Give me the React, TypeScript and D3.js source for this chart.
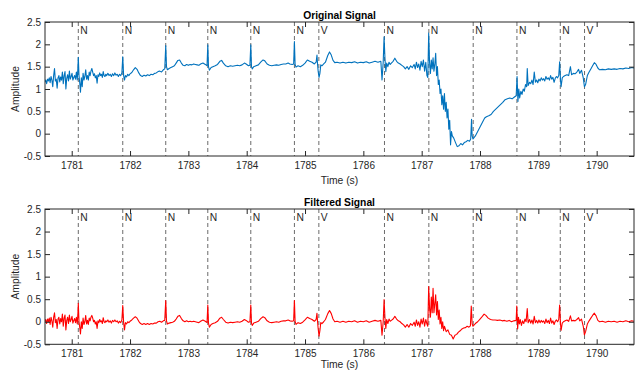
import { useEffect, useRef } from "react";
import { select, scaleLinear, line, axisBottom, axisLeft, axisTop, axisRight } from "d3";

// axis ticks
const xTicks = [1781, 1782, 1783, 1784, 1785, 1786, 1787, 1788, 1789, 1790];
const yTicks = [-0.5, 0, 0.5, 1, 1.5, 2, 2.5];

// beat annotations
const beatTimes = [
  1781.113, 1781.875, 1782.612, 1783.333, 1784.07, 1784.818, 1785.237,
  1786.362, 1787.123, 1787.883, 1788.633, 1789.376, 1789.792,
];
const beatLabels = ["N", "N", "N", "N", "N", "N", "V", "N", "N", "N", "N", "N", "V"];

// [time (s), amplitude]
const originalSignal: [number, number][] = [
  [1780.54, 1.15], [1780.555, 1.2], [1780.57, 1.12], [1780.585, 1.22], [1780.6, 1.18], [1780.615, 1.25],
  [1780.63, 1.14], [1780.645, 1.28], [1780.66, 1.2], [1780.675, 1.05], [1780.69, 1.3], [1780.705, 1.46],
  [1780.72, 1.18], [1780.735, 1.22], [1780.75, 1.02], [1780.765, 1.25], [1780.78, 1.3], [1780.795, 1.16],
  [1780.81, 1.27], [1780.825, 1.2], [1780.84, 1.38], [1780.855, 1.12], [1780.87, 1.3], [1780.885, 1.39],
  [1780.9, 1.0], [1780.915, 1.24], [1780.93, 1.32], [1780.945, 1.18], [1780.96, 1.4], [1780.975, 1.22],
  [1780.99, 1.28], [1781.005, 1.35], [1781.02, 1.2], [1781.035, 1.26], [1781.05, 1.3], [1781.065, 1.22],
  [1781.08, 1.38], [1781.095, 1.2], [1781.105, 1.45], [1781.113, 1.71], [1781.125, 1.3], [1781.14, 1.1],
  [1781.15, 0.93], [1781.165, 1.25], [1781.18, 1.05], [1781.195, 1.35], [1781.21, 1.2], [1781.225, 1.28],
  [1781.24, 1.43], [1781.255, 1.22], [1781.27, 1.3], [1781.285, 1.2], [1781.3, 1.38], [1781.315, 1.3],
  [1781.33, 1.4], [1781.345, 1.46], [1781.36, 1.38], [1781.375, 1.3], [1781.39, 1.34], [1781.405, 1.25],
  [1781.42, 1.3], [1781.435, 1.13], [1781.45, 1.32], [1781.465, 1.28], [1781.48, 1.36], [1781.495, 1.3],
  [1781.51, 1.33], [1781.525, 1.26], [1781.54, 1.39], [1781.555, 1.3], [1781.57, 1.28], [1781.585, 1.33],
  [1781.6, 1.3], [1781.62, 1.35], [1781.64, 1.3], [1781.66, 1.33], [1781.68, 1.28], [1781.7, 1.34],
  [1781.72, 1.3], [1781.74, 1.36], [1781.76, 1.31], [1781.78, 1.33], [1781.8, 1.28], [1781.82, 1.33],
  [1781.84, 1.3], [1781.86, 1.36], [1781.875, 1.72], [1781.89, 1.3], [1781.905, 1.2], [1781.92, 1.3],
  [1781.94, 1.27], [1781.96, 1.33], [1781.98, 1.3], [1782.0, 1.34], [1782.03, 1.37], [1782.06, 1.43],
  [1782.09, 1.48], [1782.12, 1.44], [1782.15, 1.36], [1782.18, 1.3], [1782.21, 1.28], [1782.24, 1.31],
  [1782.27, 1.29], [1782.3, 1.32], [1782.33, 1.3], [1782.36, 1.33], [1782.39, 1.32], [1782.42, 1.35],
  [1782.45, 1.36], [1782.48, 1.39], [1782.51, 1.4], [1782.54, 1.38], [1782.57, 1.43], [1782.595, 1.45],
  [1782.612, 1.97], [1782.625, 1.5], [1782.64, 1.43], [1782.67, 1.46], [1782.7, 1.48], [1782.73, 1.5],
  [1782.76, 1.52], [1782.79, 1.58], [1782.82, 1.64], [1782.85, 1.65], [1782.88, 1.58], [1782.91, 1.53],
  [1782.94, 1.52], [1782.97, 1.55], [1783.0, 1.53], [1783.03, 1.55], [1783.06, 1.54], [1783.09, 1.56],
  [1783.12, 1.55], [1783.15, 1.54], [1783.18, 1.53], [1783.21, 1.56], [1783.25, 1.58], [1783.29, 1.55],
  [1783.32, 1.52], [1783.333, 1.99], [1783.345, 1.5], [1783.36, 1.42], [1783.39, 1.48], [1783.42, 1.5],
  [1783.46, 1.52], [1783.5, 1.55], [1783.54, 1.62], [1783.57, 1.64], [1783.6, 1.58], [1783.64, 1.52],
  [1783.68, 1.5], [1783.72, 1.52], [1783.76, 1.51], [1783.8, 1.52], [1783.84, 1.53], [1783.88, 1.52],
  [1783.92, 1.54], [1783.96, 1.58], [1783.99, 1.56], [1784.03, 1.52], [1784.055, 1.53], [1784.07, 1.99],
  [1784.082, 1.5], [1784.095, 1.45], [1784.12, 1.5], [1784.16, 1.52], [1784.2, 1.54], [1784.24, 1.6],
  [1784.28, 1.65], [1784.31, 1.63], [1784.35, 1.56], [1784.39, 1.53], [1784.43, 1.52], [1784.47, 1.53],
  [1784.51, 1.54], [1784.55, 1.53], [1784.59, 1.55], [1784.63, 1.56], [1784.67, 1.56], [1784.71, 1.58],
  [1784.74, 1.56], [1784.78, 1.55], [1784.805, 1.56], [1784.818, 2.06], [1784.83, 1.55], [1784.845, 1.49],
  [1784.88, 1.52], [1784.92, 1.5], [1784.96, 1.53], [1785.0, 1.58], [1785.04, 1.65], [1785.08, 1.62],
  [1785.12, 1.6], [1785.16, 1.56], [1785.19, 1.6], [1785.205, 1.76], [1785.215, 1.55], [1785.225, 1.4],
  [1785.24, 1.26], [1785.255, 1.35], [1785.27, 1.54], [1785.29, 1.52], [1785.32, 1.56], [1785.35, 1.6],
  [1785.39, 1.75], [1785.42, 1.83], [1785.45, 1.76], [1785.48, 1.64], [1785.51, 1.59], [1785.55, 1.6],
  [1785.6, 1.58], [1785.65, 1.6], [1785.7, 1.58], [1785.75, 1.6], [1785.8, 1.59], [1785.85, 1.61],
  [1785.9, 1.58], [1785.95, 1.6], [1786.0, 1.59], [1786.05, 1.61], [1786.1, 1.58], [1786.15, 1.6],
  [1786.2, 1.62], [1786.25, 1.6], [1786.3, 1.62], [1786.32, 1.2], [1786.34, 1.6], [1786.355, 2.17],
  [1786.37, 1.7], [1786.385, 1.39], [1786.4, 1.58], [1786.42, 1.5], [1786.44, 1.6], [1786.46, 1.55],
  [1786.48, 1.58], [1786.51, 1.62], [1786.54, 1.69], [1786.57, 1.62], [1786.6, 1.58], [1786.63, 1.56],
  [1786.66, 1.53], [1786.69, 1.5], [1786.72, 1.45], [1786.75, 1.5], [1786.78, 1.44], [1786.81, 1.52],
  [1786.84, 1.48], [1786.87, 1.55], [1786.89, 1.45], [1786.91, 1.6], [1786.93, 1.48], [1786.95, 1.56],
  [1786.97, 1.42], [1786.99, 1.62], [1787.01, 1.5], [1787.03, 1.65], [1787.05, 1.4], [1787.07, 1.6],
  [1787.09, 1.3], [1787.105, 1.26], [1787.12, 2.25], [1787.135, 1.6], [1787.15, 1.35], [1787.165, 1.65],
  [1787.18, 1.45], [1787.195, 1.7], [1787.21, 1.4], [1787.225, 1.55], [1787.24, 1.8], [1787.255, 1.3],
  [1787.27, 1.5], [1787.285, 1.1], [1787.3, 1.2], [1787.315, 0.9], [1787.33, 1.0], [1787.345, 0.65],
  [1787.36, 0.85], [1787.375, 0.55], [1787.39, 0.9], [1787.405, 0.5], [1787.42, 0.7], [1787.435, 0.35],
  [1787.45, 0.55], [1787.465, 0.1], [1787.48, 0.3], [1787.495, -0.25], [1787.51, 0.05], [1787.525, -0.05],
  [1787.55, -0.1], [1787.58, -0.2], [1787.61, -0.29], [1787.64, -0.27], [1787.67, -0.22], [1787.7, -0.25],
  [1787.73, -0.2], [1787.76, -0.18], [1787.79, -0.15], [1787.82, -0.17], [1787.84, -0.12], [1787.855, 0.32],
  [1787.865, -0.05], [1787.88, -0.12], [1787.92, -0.05], [1787.96, 0.05], [1788.0, 0.15], [1788.04, 0.25],
  [1788.08, 0.35], [1788.11, 0.38], [1788.15, 0.4], [1788.19, 0.43], [1788.23, 0.5], [1788.27, 0.55],
  [1788.31, 0.6], [1788.35, 0.65], [1788.39, 0.7], [1788.43, 0.76], [1788.47, 0.78], [1788.51, 0.8],
  [1788.55, 0.78], [1788.59, 0.82], [1788.62, 0.85], [1788.635, 1.28], [1788.65, 0.72], [1788.665, 1.0],
  [1788.68, 0.8], [1788.7, 0.95], [1788.72, 0.88], [1788.74, 1.0], [1788.76, 0.95], [1788.78, 1.1],
  [1788.8, 1.05], [1788.81, 1.46], [1788.825, 1.08], [1788.85, 1.15], [1788.87, 1.12], [1788.89, 1.2],
  [1788.91, 1.1], [1788.93, 1.38], [1788.95, 1.15], [1788.97, 1.2], [1788.99, 1.14], [1789.01, 1.22],
  [1789.03, 1.18], [1789.05, 1.25], [1789.07, 1.2], [1789.09, 1.23], [1789.11, 1.18], [1789.13, 1.28],
  [1789.15, 1.22], [1789.17, 1.25], [1789.19, 1.2], [1789.21, 1.3], [1789.23, 1.22], [1789.25, 1.26],
  [1789.27, 1.15], [1789.29, 1.24], [1789.31, 1.28], [1789.33, 1.25], [1789.35, 1.3], [1789.365, 1.61],
  [1789.38, 1.2], [1789.39, 1.05], [1789.41, 1.25], [1789.43, 1.28], [1789.46, 1.3], [1789.49, 1.32],
  [1789.52, 1.3], [1789.55, 1.5], [1789.57, 1.32], [1789.6, 1.35], [1789.63, 1.34], [1789.66, 1.38],
  [1789.69, 1.44], [1789.71, 1.35], [1789.74, 1.42], [1789.77, 1.25], [1789.79, 1.05], [1789.81, 1.1],
  [1789.84, 1.3], [1789.87, 1.38], [1789.9, 1.45], [1789.93, 1.52], [1789.96, 1.59], [1789.99, 1.55],
  [1790.02, 1.47], [1790.05, 1.43], [1790.1, 1.44], [1790.15, 1.43], [1790.2, 1.45], [1790.25, 1.44],
  [1790.3, 1.45], [1790.35, 1.44], [1790.4, 1.46], [1790.45, 1.45], [1790.5, 1.47], [1790.55, 1.46],
  [1790.6, 1.48], [1790.64, 1.47],
];

// [time (s), amplitude]
const filteredSignal: [number, number][] = [
  [1780.54, 0.0], [1780.555, 0.05], [1780.57, -0.04], [1780.585, 0.06], [1780.6, 0.0], [1780.615, 0.08],
  [1780.63, -0.06], [1780.645, 0.1], [1780.66, 0.02], [1780.675, -0.12], [1780.69, 0.1], [1780.705, 0.2],
  [1780.72, -0.02], [1780.735, 0.05], [1780.75, -0.15], [1780.765, 0.06], [1780.78, 0.1], [1780.795, -0.05],
  [1780.81, 0.07], [1780.825, 0.0], [1780.84, 0.17], [1780.855, -0.1], [1780.87, 0.08], [1780.885, 0.15],
  [1780.9, -0.18], [1780.915, 0.03], [1780.93, 0.1], [1780.945, -0.04], [1780.96, 0.15], [1780.975, 0.0],
  [1780.99, 0.05], [1781.005, 0.12], [1781.02, -0.03], [1781.035, 0.03], [1781.05, 0.07], [1781.065, -0.02],
  [1781.08, 0.1], [1781.095, -0.05], [1781.105, 0.15], [1781.113, 0.41], [1781.125, 0.0], [1781.14, -0.15],
  [1781.15, -0.27], [1781.165, 0.0], [1781.18, -0.15], [1781.195, 0.08], [1781.21, -0.06], [1781.225, 0.0],
  [1781.24, 0.14], [1781.255, -0.05], [1781.27, 0.03], [1781.285, -0.06], [1781.3, 0.08], [1781.315, 0.02],
  [1781.33, 0.1], [1781.345, 0.14], [1781.36, 0.08], [1781.375, 0.0], [1781.39, 0.03], [1781.405, -0.05],
  [1781.42, 0.0], [1781.435, -0.15], [1781.45, 0.02], [1781.465, -0.02], [1781.48, 0.05], [1781.495, 0.0],
  [1781.51, 0.02], [1781.525, -0.04], [1781.54, 0.09], [1781.555, 0.0], [1781.57, -0.02], [1781.585, 0.02],
  [1781.6, 0.0], [1781.62, 0.04], [1781.64, -0.01], [1781.66, 0.02], [1781.68, -0.03], [1781.7, 0.03],
  [1781.72, 0.0], [1781.74, 0.04], [1781.76, 0.0], [1781.78, 0.02], [1781.8, -0.03], [1781.82, 0.01],
  [1781.84, -0.02], [1781.86, 0.04], [1781.875, 0.36], [1781.89, -0.02], [1781.905, -0.18], [1781.92, -0.02],
  [1781.94, -0.05], [1781.96, 0.0], [1781.98, -0.02], [1782.0, 0.01], [1782.03, 0.04], [1782.06, 0.08],
  [1782.09, 0.11], [1782.12, 0.08], [1782.15, 0.01], [1782.18, -0.04], [1782.21, -0.06], [1782.24, -0.04],
  [1782.27, -0.06], [1782.3, -0.04], [1782.33, -0.06], [1782.36, -0.04], [1782.39, -0.05], [1782.42, -0.03],
  [1782.45, -0.03], [1782.48, 0.0], [1782.51, 0.01], [1782.54, -0.01], [1782.57, 0.02], [1782.595, 0.03],
  [1782.612, 0.47], [1782.625, 0.02], [1782.64, -0.05], [1782.67, -0.03], [1782.7, -0.02], [1782.73, -0.01],
  [1782.76, 0.01], [1782.79, 0.06], [1782.82, 0.12], [1782.85, 0.14], [1782.88, 0.07], [1782.91, 0.02],
  [1782.94, 0.0], [1782.97, 0.02], [1783.0, 0.0], [1783.03, 0.01], [1783.06, 0.0], [1783.09, 0.01],
  [1783.12, 0.0], [1783.15, -0.01], [1783.18, -0.02], [1783.21, 0.01], [1783.25, 0.04], [1783.29, 0.01],
  [1783.32, -0.02], [1783.333, 0.37], [1783.345, -0.03], [1783.36, -0.12], [1783.39, -0.06], [1783.42, -0.04],
  [1783.46, -0.02], [1783.5, 0.01], [1783.54, 0.08], [1783.57, 0.1], [1783.6, 0.05], [1783.64, -0.01],
  [1783.68, -0.03], [1783.72, -0.01], [1783.76, -0.02], [1783.8, -0.01], [1783.84, 0.0], [1783.88, -0.01],
  [1783.92, 0.01], [1783.96, 0.05], [1783.99, 0.03], [1784.03, -0.01], [1784.055, 0.0], [1784.07, 0.37],
  [1784.082, -0.03], [1784.095, -0.08], [1784.12, -0.03], [1784.16, -0.01], [1784.2, 0.01], [1784.24, 0.07],
  [1784.28, 0.11], [1784.31, 0.09], [1784.35, 0.02], [1784.39, -0.01], [1784.43, -0.02], [1784.47, -0.01],
  [1784.51, 0.0], [1784.55, -0.01], [1784.59, 0.01], [1784.63, 0.02], [1784.67, 0.02], [1784.71, 0.04],
  [1784.74, 0.02], [1784.78, 0.01], [1784.805, 0.02], [1784.818, 0.47], [1784.83, 0.01], [1784.845, -0.06],
  [1784.88, -0.02], [1784.92, -0.04], [1784.96, -0.01], [1785.0, 0.04], [1785.04, 0.1], [1785.08, 0.07],
  [1785.12, 0.05], [1785.16, 0.01], [1785.19, 0.05], [1785.205, 0.19], [1785.215, 0.0], [1785.225, -0.15],
  [1785.24, -0.32], [1785.255, -0.2], [1785.27, -0.02], [1785.29, -0.04], [1785.32, 0.0], [1785.35, 0.05],
  [1785.39, 0.18], [1785.42, 0.25], [1785.45, 0.18], [1785.48, 0.06], [1785.51, 0.0], [1785.55, 0.01],
  [1785.6, -0.01], [1785.65, 0.01], [1785.7, -0.01], [1785.75, 0.01], [1785.8, 0.0], [1785.85, 0.02],
  [1785.9, -0.01], [1785.95, 0.01], [1786.0, 0.0], [1786.05, 0.02], [1786.1, -0.01], [1786.15, 0.01],
  [1786.2, 0.03], [1786.25, 0.01], [1786.3, 0.03], [1786.32, -0.3], [1786.34, 0.0], [1786.355, 0.49],
  [1786.37, 0.1], [1786.385, -0.15], [1786.4, 0.05], [1786.42, -0.04], [1786.44, 0.06], [1786.46, 0.01],
  [1786.48, 0.03], [1786.51, 0.06], [1786.54, 0.12], [1786.57, 0.06], [1786.6, 0.02], [1786.63, 0.0],
  [1786.66, -0.04], [1786.69, -0.07], [1786.72, -0.12], [1786.75, -0.06], [1786.78, -0.12], [1786.81, -0.04],
  [1786.84, -0.08], [1786.87, -0.01], [1786.89, -0.1], [1786.91, 0.04], [1786.93, -0.08], [1786.95, 0.0],
  [1786.97, -0.12], [1786.99, 0.06], [1787.01, -0.05], [1787.03, 0.08], [1787.05, -0.1], [1787.07, 0.05],
  [1787.09, -0.05], [1787.105, -0.1], [1787.12, 0.78], [1787.135, 0.3], [1787.15, 0.1], [1787.165, 0.55],
  [1787.18, 0.2], [1787.195, 0.74], [1787.21, 0.2], [1787.225, 0.4], [1787.24, 0.6], [1787.255, 0.15],
  [1787.27, 0.45], [1787.285, 0.05], [1787.3, 0.26], [1787.315, -0.05], [1787.33, 0.1], [1787.345, -0.15],
  [1787.36, 0.0], [1787.375, -0.2], [1787.39, -0.1], [1787.42, -0.22], [1787.45, -0.18], [1787.48, -0.28],
  [1787.51, -0.3], [1787.54, -0.38], [1787.57, -0.3], [1787.6, -0.28], [1787.63, -0.23], [1787.66, -0.2],
  [1787.69, -0.16], [1787.72, -0.14], [1787.75, -0.13], [1787.78, -0.1], [1787.81, -0.12], [1787.835, -0.09],
  [1787.85, 0.35], [1787.865, -0.05], [1787.88, -0.1], [1787.92, -0.04], [1787.96, 0.0], [1788.0, 0.06],
  [1788.04, 0.12], [1788.07, 0.17], [1788.1, 0.14], [1788.14, 0.08], [1788.18, 0.05], [1788.22, 0.04],
  [1788.26, 0.04], [1788.3, 0.03], [1788.34, 0.04], [1788.38, 0.02], [1788.42, 0.03], [1788.46, 0.01],
  [1788.5, 0.03], [1788.54, 0.0], [1788.58, 0.02], [1788.62, 0.03], [1788.63, 0.35], [1788.645, -0.16],
  [1788.66, 0.1], [1788.675, -0.05], [1788.69, 0.05], [1788.71, -0.08], [1788.73, 0.02], [1788.75, -0.04],
  [1788.77, 0.06], [1788.79, 0.0], [1788.81, 0.29], [1788.825, -0.02], [1788.85, 0.05], [1788.87, -0.03],
  [1788.89, 0.04], [1788.91, -0.05], [1788.93, 0.12], [1788.95, -0.02], [1788.97, 0.03], [1788.99, -0.03],
  [1789.01, 0.04], [1789.03, -0.02], [1789.05, 0.03], [1789.07, -0.01], [1789.09, 0.02], [1789.11, -0.04],
  [1789.13, 0.06], [1789.15, -0.02], [1789.17, 0.03], [1789.19, -0.04], [1789.21, 0.08], [1789.23, -0.03],
  [1789.25, 0.02], [1789.27, -0.06], [1789.29, 0.01], [1789.31, 0.04], [1789.33, 0.0], [1789.35, 0.05],
  [1789.365, 0.37], [1789.38, -0.05], [1789.39, -0.19], [1789.41, -0.03], [1789.43, 0.0], [1789.46, 0.02],
  [1789.49, 0.04], [1789.52, 0.01], [1789.55, 0.13], [1789.57, 0.02], [1789.6, 0.03], [1789.63, 0.02],
  [1789.66, 0.05], [1789.69, 0.09], [1789.71, 0.02], [1789.74, 0.06], [1789.77, -0.1], [1789.79, -0.29],
  [1789.81, -0.22], [1789.84, -0.05], [1789.87, 0.02], [1789.9, 0.08], [1789.93, 0.14], [1789.96, 0.19],
  [1789.99, 0.13], [1790.02, 0.03], [1790.05, 0.0], [1790.1, 0.01], [1790.15, -0.01], [1790.2, 0.01],
  [1790.25, 0.0], [1790.3, 0.01], [1790.35, -0.01], [1790.4, 0.01], [1790.45, 0.0], [1790.5, 0.02],
  [1790.55, 0.0], [1790.6, 0.02], [1790.64, 0.01],
];

const WIDTH = 635;
const HEIGHT = 371;
const LEFT = 45;
const RIGHT = 634;
const FONT = "'Liberation Sans', Arial, Helvetica, sans-serif";
const AXIS_COLOR = "#262626";

const panels = [
  { title: "Original Signal", data: originalSignal, color: "#0072BD", top: 22, bottom: 156 },
  { title: "Filtered Signal", data: filteredSignal, color: "#FF0000", top: 209, bottom: 344.3 },
];

export default function App() {
  const svgRef = useRef<SVGSVGElement>(null);

  useEffect(() => {
    const svg = select(svgRef.current);
    svg.selectAll("*").remove();

    const x = scaleLinear().domain([1780.542, 1790.64]).range([LEFT, RIGHT]);

    panels.forEach((p, idx) => {
      const y = scaleLinear().domain([-0.5, 2.5]).range([p.bottom, p.top]);
      const g = svg.append("g");

      const clipId = `clip-${idx}`;
      g.append("clipPath")
        .attr("id", clipId)
        .append("rect")
        .attr("x", LEFT)
        .attr("y", p.top)
        .attr("width", RIGHT - LEFT)
        .attr("height", p.bottom - p.top);

      // beat annotation lines
      g.selectAll(".beat")
        .data(beatTimes)
        .join("line")
        .attr("x1", (d) => x(d))
        .attr("x2", (d) => x(d))
        .attr("y1", p.top)
        .attr("y2", p.bottom)
        .attr("stroke", "#6b6b6b")
        .attr("stroke-width", 1)
        .attr("stroke-dasharray", "4,3");

      // signal trace
      const path = line<[number, number]>()
        .x((d) => x(d[0]))
        .y((d) => y(d[1]));
      g.append("path")
        .datum(p.data)
        .attr("d", path)
        .attr("fill", "none")
        .attr("stroke", p.color)
        .attr("stroke-width", 1.1)
        .attr("stroke-linejoin", "round")
        .attr("clip-path", `url(#${clipId})`);

      // beat labels
      g.selectAll(".beat-label")
        .data(beatTimes)
        .join("text")
        .attr("x", (d) => x(d) + 2)
        .attr("y", p.top + 11.5)
        .attr("font-family", FONT)
        .attr("font-size", 10.3)
        .attr("fill", "#262626")
        .text((d, i) => beatLabels[i]);

      // axes: ticks pointing inward, like MATLAB
      const bottomAxis = g
        .append("g")
        .attr("transform", `translate(0,${p.bottom})`)
        .call(
          axisBottom(x)
            .tickValues(xTicks)
            .tickSizeInner(-5)
            .tickSizeOuter(0)
            .tickPadding(6)
            .tickFormat((d) => String(d))
        );
      const leftAxis = g
        .append("g")
        .attr("transform", `translate(${LEFT},0)`)
        .call(
          axisLeft(y)
            .tickValues(yTicks)
            .tickSizeInner(-5)
            .tickSizeOuter(0)
            .tickPadding(4)
            .tickFormat((d) => String(d))
        );
      const topAxis = g
        .append("g")
        .attr("transform", `translate(0,${p.top})`)
        .call(axisTop(x).tickValues(xTicks).tickSizeInner(-5).tickSizeOuter(0).tickFormat(() => ""));
      const rightAxis = g
        .append("g")
        .attr("transform", `translate(${RIGHT},0)`)
        .call(axisRight(y).tickValues(yTicks).tickSizeInner(-5).tickSizeOuter(0).tickFormat(() => ""));

      [bottomAxis, leftAxis, topAxis, rightAxis].forEach((a) => {
        a.select(".domain").remove();
        a.selectAll("line").attr("stroke", AXIS_COLOR);
        a.selectAll("text")
          .attr("font-family", FONT)
          .attr("font-size", 10)
          .attr("fill", AXIS_COLOR);
      });

      // box
      g.append("rect")
        .attr("x", LEFT)
        .attr("y", p.top)
        .attr("width", RIGHT - LEFT)
        .attr("height", p.bottom - p.top)
        .attr("fill", "none")
        .attr("stroke", AXIS_COLOR)
        .attr("stroke-width", 1);

      // title and labels
      g.append("text")
        .attr("x", (LEFT + RIGHT) / 2)
        .attr("y", p.top - 3)
        .attr("text-anchor", "middle")
        .attr("font-family", FONT)
        .attr("font-size", 10.3)
        .attr("font-weight", "bold")
        .attr("fill", "#000")
        .text(p.title);

      g.append("text")
        .attr("x", (LEFT + RIGHT) / 2)
        .attr("y", Math.min(p.bottom + 28, HEIGHT - 3))
        .attr("text-anchor", "middle")
        .attr("font-family", FONT)
        .attr("font-size", 10.3)
        .attr("fill", AXIS_COLOR)
        .text("Time (s)");

      g.append("text")
        .attr("transform", `translate(19,${(p.top + p.bottom) / 2}) rotate(-90)`)
        .attr("text-anchor", "middle")
        .attr("font-family", FONT)
        .attr("font-size", 10.3)
        .attr("fill", AXIS_COLOR)
        .text("Amplitude");
    });
  }, []);

  return (
    <svg
      ref={svgRef}
      width={WIDTH}
      height={HEIGHT}
      style={{ position: "fixed", left: 0, top: 0, background: "#fff" }}
    />
  );
}
